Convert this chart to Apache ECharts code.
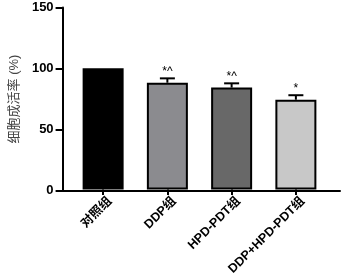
<!DOCTYPE html>
<html lang="zh">
<head>
<meta charset="UTF-8">
<title>细胞成活率</title>
<script src="https://cdn.jsdelivr.net/npm/echarts@6/dist/echarts.min.js"></script>
</head>
<body style="margin:0">
<div id="main" style="width:345px;height:280px"></div>
<script type="text/javascript">
var categories = ['对照组', 'DDP组', 'HPD-PDT组', 'DDP+HPD-PDT组'];
var values = [100, 88, 84, 74];
var errors = [0, 3.6, 3.5, 3.7];
var marks = ['', '*^', '*^', '*'];
var barColors = ['#000000', '#8b8b8f', '#686868', '#c8c8c8'];

var chart = echarts.init(document.getElementById('main'));

var barData = values.map(function (v, i) {
    return {
        value: v,
        itemStyle: {
            color: barColors[i],
            borderColor: '#000',
            borderWidth: i === 0 ? 0 : 2
        }
    };
});
var errData = values.map(function (v, i) {
    return [i, v, v + errors[i]];
});

var fontFamily = 'Liberation Sans, Arial, "Noto Sans CJK SC", sans-serif';

var option = {
    animation: false,
    grid: [
        // 坐标轴网格
        { left: 60, right: 5, top: 7.5, bottom: 89.5 },
        // 柱子网格
        { left: 71, right: 17, top: 7.5, bottom: 89.5 }
    ],
    xAxis: [
        {
            gridIndex: 0,
            type: 'value',
            min: 0, max: 1,
            splitLine: { show: false },
            axisTick: { show: false },
            axisLabel: { show: false },
            axisLine: { show: true, onZero: false, lineStyle: { color: '#000', width: 2 } },
            z: 5
        },
        {
            gridIndex: 1,
            type: 'category',
            data: categories,
            axisLine: { show: false },
            axisTick: {
                show: true, alignWithLabel: true, length: 5.5,
                lineStyle: { color: '#000', width: 2 }
            },
            axisLabel: {
                interval: 0,
                rotate: 45,
                margin: 3,
                verticalAlign: 'top',
                lineHeight: 19,
                color: '#000',
                fontWeight: 'bold',
                fontSize: 12.5,
                fontFamily: fontFamily
            }
        }
    ],
    yAxis: [
        {
            gridIndex: 0,
            type: 'value',
            min: 0,
            max: 150,
            interval: 50,
            name: '细胞成活率 (%)',
            nameLocation: 'middle',
            nameGap: 39,
            nameRotate: 90,
            nameTextStyle: { color: '#444', fontSize: 13, fontFamily: fontFamily },
            splitLine: { show: false },
            axisLine: { show: true, onZero: false, lineStyle: { color: '#000', width: 2 } },
            axisTick: { show: true, length: 7, lineStyle: { color: '#000', width: 2 } },
            axisLabel: {
                color: '#000', fontWeight: 'bold', fontSize: 13, margin: 9,
                fontFamily: fontFamily
            }
        },
        {
            gridIndex: 1,
            type: 'value',
            min: 0,
            max: 150,
            axisLine: { show: false },
            axisTick: { show: false },
            axisLabel: { show: false },
            splitLine: { show: false }
        }
    ],
    series: [
        {
            type: 'bar',
            xAxisIndex: 1,
            yAxisIndex: 1,
            barWidth: 41,
            data: barData,
            z: 2
        },
        {
            type: 'custom',
            xAxisIndex: 1,
            yAxisIndex: 1,
            z: 3,
            data: errData,
            renderItem: function (params, api) {
                var i = api.value(0);
                var top = api.coord([i, api.value(1)]);
                var hi = api.coord([i, api.value(2)]);
                var children = [];
                if (api.value(2) > api.value(1)) {
                    children.push({
                        type: 'line',
                        shape: { x1: top[0], y1: top[1], x2: hi[0], y2: hi[1] },
                        style: { stroke: '#000', lineWidth: 2 }
                    });
                    children.push({
                        type: 'line',
                        shape: { x1: hi[0] - 7.5, y1: hi[1], x2: hi[0] + 7.5, y2: hi[1] },
                        style: { stroke: '#000', lineWidth: 2 }
                    });
                }
                children.push({
                    type: 'text',
                    style: {
                        text: marks[params.dataIndex],
                        x: hi[0], y: hi[1] - 1,
                        align: 'center', verticalAlign: 'bottom',
                        fill: '#000', font: '12px ' + fontFamily
                    }
                });
                return { type: 'group', children: children };
            }
        }
    ]
};

chart.setOption(option);
</script>
</body>
</html>
